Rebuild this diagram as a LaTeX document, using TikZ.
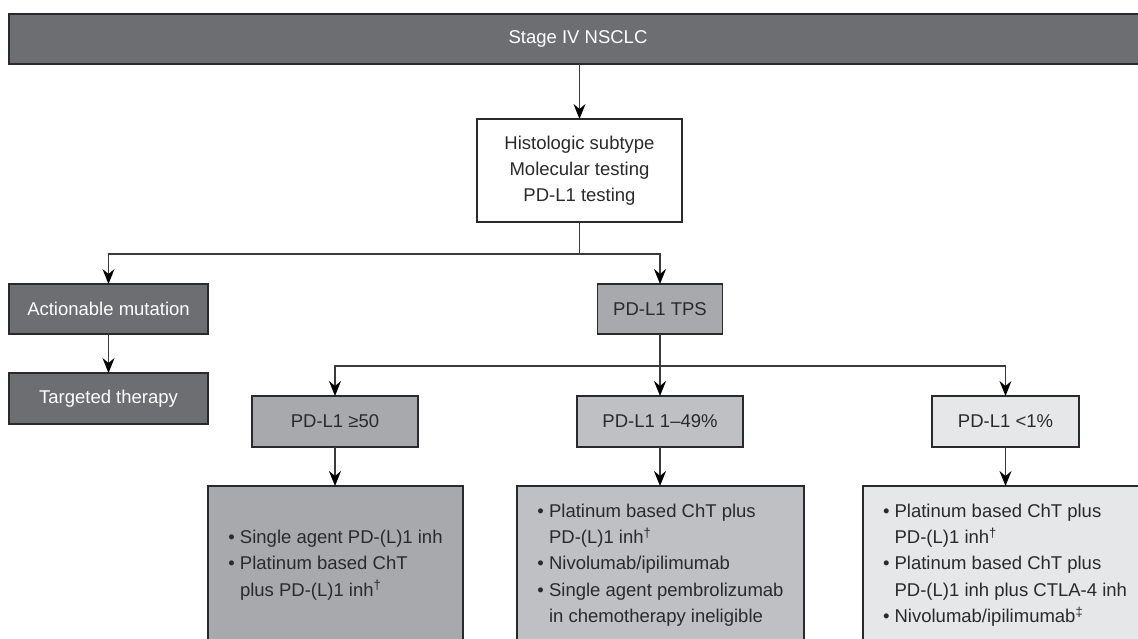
\documentclass[tikz,border=0pt]{standalone}
\usepackage{fontspec}
\setmainfont{Liberation Sans}
\usetikzlibrary{arrows.meta}

\definecolor{DarkGrey}{HTML}{6D6E71}
\definecolor{MidGrey}{HTML}{A7A9AC}
\definecolor{LightGrey}{HTML}{BFC0C3}
\definecolor{PaleGrey}{HTML}{E6E7E8}
\definecolor{Edge}{HTML}{2A2A2C}
\definecolor{Wire}{HTML}{3A3A3C}

\newcommand{\pbul}{\textbullet\ }
\newcommand{\pind}{\hphantom{\textbullet\ }}

\begin{document}
\begin{tikzpicture}[
			x=1pt, y=-1pt,
			font=\fontsize{18.5}{26}\selectfont,
			Box/.style={draw=Edge, line width=1.4pt, outer sep=0pt, inner sep=0pt,
				text=Edge, align=center},
			Dark/.style={Box, fill=DarkGrey, text=white},
			Mid/.style={Box, fill=MidGrey},
			Light/.style={Box, fill=LightGrey},
			Pale/.style={Box, fill=PaleGrey},
			Treat/.style={minimum height=158pt, align=left, inner ysep=0pt,
				font=\fontsize{18.5}{26.3}\selectfont},
			Arr/.style={draw=Wire, line width=1.5pt,
				-{Stealth[length=15pt, width=12pt, inset=5pt, color=black]}},
			Wire/.style={draw=Wire, line width=1.5pt},
			]
			\useasboundingbox (0,0) rectangle (1138,639);
			
			\node [Dark, minimum width=1138pt, minimum height=50pt] (stage) at (578,39) {Stage IV NSCLC};
			\node [Box, fill=white, minimum width=205pt, minimum height=103pt] (hist) at (579.5,170.5)
			{Histologic subtype\\Molecular testing\\PD-L1 testing};
			
			\node [Dark, minimum width=199pt, minimum height=50pt] (act) at (108.5,309) {Actionable mutation};
			\node [Dark, minimum width=199pt, minimum height=51pt] (tgt) at (108.5,398.5) {Targeted therapy};
			\node [Mid, minimum width=125pt, minimum height=50pt] (tps) at (660,309) {PD-L1 TPS};
			
			\node [Mid, minimum width=166pt, minimum height=51pt] (high) at (335,421.5) {PD-L1 ≥50};
			\node [Light, minimum width=166pt, minimum height=51pt] (midl) at (660,421.5) {PD-L1 1–49\%};
			\node [Pale, minimum width=147pt, minimum height=51pt] (low) at (1005.5,421.5) {PD-L1 <1\%};
			
			% treatment boxes, cut off at the bottom
			\node [Mid, Treat, minimum width=255pt] (rx1) at (335.5,565)
			{\pbul Single agent PD-(L)1 inh\\
				\pbul Platinum based ChT\\
				\pind plus PD-(L)1 inh\textsuperscript{†}};
			\node [Light, Treat, minimum width=287pt] (rx2) at (660.5,565)
			{\pbul Platinum based ChT plus\\
				\pind PD-(L)1 inh\textsuperscript{†}\\
				\pbul Nivolumab/ipilimumab\\
				\pbul Single agent pembrolizumab\\
				\pind in chemotherapy ineligible};
			\node [Pale, Treat, minimum width=284pt] (rx3) at (1005,565)
			{\pbul Platinum based ChT plus\\
				\pind PD-(L)1 inh\textsuperscript{†}\\
				\pbul Platinum based ChT plus\\
				\pind PD-(L)1 inh plus CTLA-4 inh\\
				\pbul Nivolumab/ipilimumab\textsuperscript{‡}};
			
			\coordinate (split1) at (hist.south |- 0,254);
			\coordinate (split2) at (tps.south |- 0,366);
			
			\draw [Arr] (stage.south -| hist.north) -- (hist.north);
			\draw [Wire] (hist.south) -- (split1);
			\draw [Arr] (split1) -| (act.north);
			\draw [Arr] (split1) -| (tps.north);
			\draw [Arr] (act.south) -- (tgt.north);
			
			\draw [Wire] (tps.south) -- (split2);
			\draw [Arr] (split2) -| (high.north);
			\draw [Arr] (split2) -- (midl.north);
			\draw [Arr] (split2) -| (low.north);
			
			\draw [Arr] (high.south) -- (rx1.north -| high.south);
			\draw [Arr] (midl.south) -- (rx2.north -| midl.south);
			\draw [Arr] (low.south) -- (rx3.north -| low.south);
		\end{tikzpicture}
\end{document}
